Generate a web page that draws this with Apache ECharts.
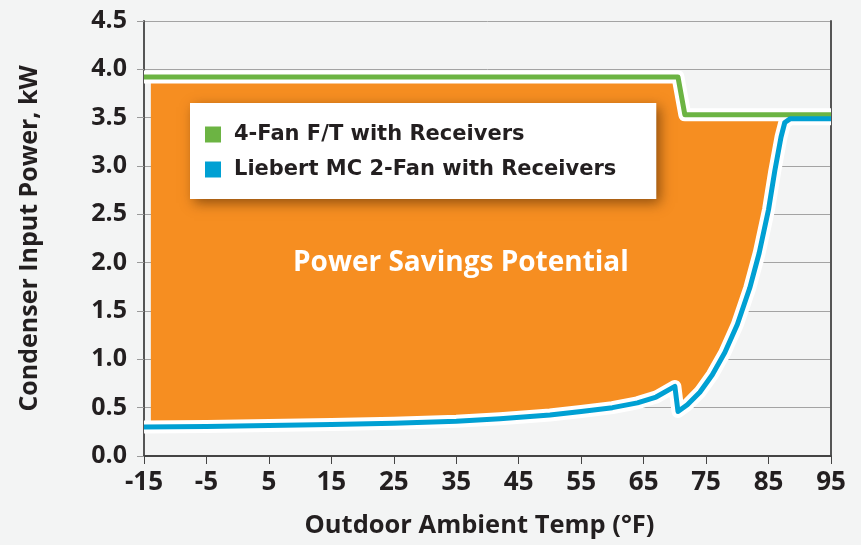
<!DOCTYPE html>
<html>
<head>
<meta charset="utf-8">
<script src="https://cdn.jsdelivr.net/npm/echarts@6/dist/echarts.min.js"></script>
<style>
  html, body { margin: 0; padding: 0; background: #f3f4f4; }
  #chart { width: 861px; height: 545px; }
</style>
</head>
<body>
<div id="chart"></div>
<script>
// x = outdoor ambient temp (°F), y = condenser input power (kW)
const fanFT = [
  [-15, 3.92], [70.5, 3.92], [71.6, 3.53], [95, 3.53]
];
const liebertMC = [
  [-15, 0.30], [-5, 0.305], [5, 0.315], [15, 0.325], [25, 0.34], [35, 0.36],
  [42, 0.385], [50, 0.425], [55, 0.46], [60, 0.50], [64, 0.55], [67, 0.61],
  [70.0, 0.72], [70.5, 0.46], [72, 0.53], [74, 0.66], [76, 0.84], [78, 1.07],
  [80, 1.36], [82, 1.74], [83.5, 2.1], [85, 2.55], [86, 2.95], [87, 3.3],
  [87.6, 3.45], [88.5, 3.49], [95, 3.49]
];
const fillStart = -13.9;

const GREEN = '#6cb443';
const BLUE = '#00a0d3';
const ORANGE = '#f68e21';
const TEXT = '#231f20';
const AXIS_FONT = '"Open Sans", sans-serif';

const chart = echarts.init(document.getElementById('chart'), null, { renderer: 'canvas' });

// orange fill between the two curves, through the axis scales
function renderSavings(params, api) {
  const upper = fanFT.map(p => api.coord([Math.max(p[0], fillStart), p[1]]));
  const lower = liebertMC.map(p => api.coord([Math.max(p[0], fillStart), p[1]])).reverse();
  return {
    type: 'polygon',
    shape: { points: upper.concat(lower) },
    style: { fill: ORANGE }
  };
}

const haloStyle = { color: '#ffffff', width: 13, cap: 'butt', join: 'round' };

chart.setOption({
  backgroundColor: '#f3f4f4',
  animation: false,
  grid: { left: 144, right: 30, top: 21, bottom: 89, containLabel: false, outerBoundsMode: 'none' },
  legend: {
    data: ['4-Fan F/T with Receivers', 'Liebert MC 2-Fan with Receivers'],
    orient: 'vertical',
    left: 190,
    top: 103,
    icon: 'rect',
    itemWidth: 16,
    itemHeight: 16,
    itemGap: 14,
    padding: [21, 40, 19, 15],
    backgroundColor: '#ffffff',
    shadowColor: 'rgba(60,30,0,0.55)',
    shadowBlur: 12,
    shadowOffsetX: 4,
    shadowOffsetY: 4,
    textStyle: {
      fontFamily: '"DejaVu Sans", sans-serif',
      fontWeight: 'bold',
      fontSize: 21,
      lineHeight: 20,
      color: TEXT,
      padding: [0, 0, 0, 8]
    }
  },
  xAxis: {
    type: 'value',
    min: -15,
    max: 95,
    interval: 10,
    name: 'Outdoor Ambient Temp (°F)',
    nameLocation: 'middle',
    nameGap: 57,
    nameTextStyle: { fontFamily: AXIS_FONT, fontWeight: 700, fontSize: 25.5, color: TEXT, padding: [0, 16, 0, 0] },
    axisLine: { show: true, onZero: false, lineStyle: { color: '#444', width: 2 } },
    axisTick: { show: true, length: 8, lineStyle: { color: '#444', width: 1 } },
    axisLabel: { fontFamily: AXIS_FONT, fontWeight: 700, fontSize: 26, color: TEXT, margin: 14 },
    splitLine: { show: false }
  },
  yAxis: [{
    type: 'value',
    min: 0,
    max: 4.5,
    interval: 0.5,
    name: 'Condenser Input Power, kW',
    nameLocation: 'middle',
    nameGap: 102,
    nameRotate: 90,
    nameTextStyle: { fontFamily: AXIS_FONT, fontWeight: 700, fontSize: 25, color: TEXT },
    axisLine: { show: true, onZero: false, lineStyle: { color: '#555', width: 2 } },
    axisTick: { show: true, length: 7, lineStyle: { color: '#9a9a9a' } },
    axisLabel: {
      fontFamily: AXIS_FONT, fontWeight: 700, fontSize: 25, color: TEXT, margin: 17,
      formatter: v => v.toFixed(1)
    },
    splitLine: { show: true, lineStyle: { color: '#a3a3a3', width: 1 } }
  }, {
    type: 'value',
    position: 'right',
    min: 0,
    max: 4.5,
    axisLine: { show: true, onZero: false, lineStyle: { color: '#555', width: 2 } },
    axisTick: { show: false },
    axisLabel: { show: false },
    splitLine: { show: false }
  }],
  graphic: [{
    type: 'text',
    x: 293,
    y: 263,
    z: 100,
    style: {
      text: 'Power Savings Potential',
      fill: '#ffffff',
      font: '700 28px "Open Sans", sans-serif',
      verticalAlign: 'middle'
    }
  }],
  series: [
    {
      type: 'custom',
      name: 'savings',
      renderItem: renderSavings,
      data: [[fillStart, 0]],
      silent: true,
      z: 1
    },
    {
      type: 'line', name: 'halo-ft', data: fanFT, showSymbol: false, silent: true,
      lineStyle: haloStyle, z: 2
    },
    {
      type: 'line', name: 'halo-mc', data: liebertMC, showSymbol: false, silent: true,
      lineStyle: haloStyle, z: 2
    },
    {
      type: 'line', name: '4-Fan F/T with Receivers', data: fanFT, showSymbol: false,
      itemStyle: { color: GREEN },
      lineStyle: { color: GREEN, width: 5, join: 'round' },
      z: 3
    },
    {
      type: 'line', name: 'Liebert MC 2-Fan with Receivers', data: liebertMC, showSymbol: false,
      itemStyle: { color: BLUE },
      lineStyle: { color: BLUE, width: 5, join: 'round' },
      z: 3
    }
  ]
});
</script>
</body>
</html>
